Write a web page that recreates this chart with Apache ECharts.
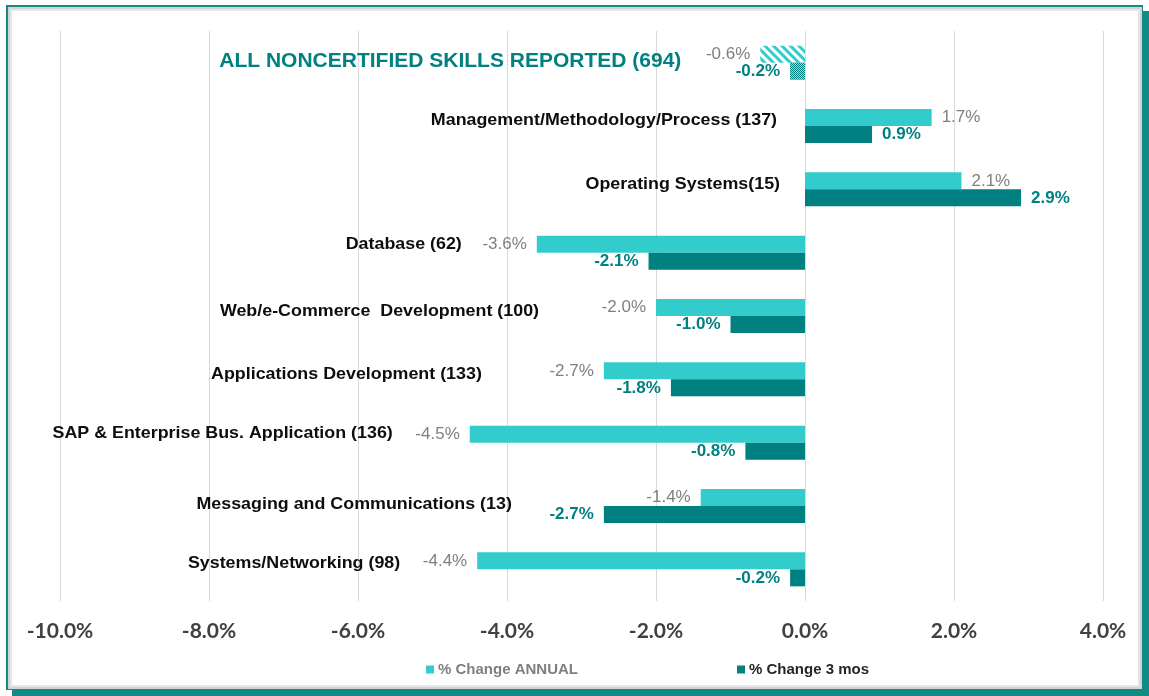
<!DOCTYPE html>
<html>
<head>
<meta charset="utf-8">
<script src="https://cdn.jsdelivr.net/npm/echarts@6/dist/echarts.min.js"></script>
<style>
html,body{margin:0;padding:0;background:#fff;}
#chart{width:1149px;height:696px;}
</style>
</head>
<body>
<div id="chart"></div>
<script>
// ---- data ----
var categories = [
  'ALL NONCERTIFIED SKILLS REPORTED (694)',
  'Management/Methodology/Process (137)',
  'Operating Systems(15)',
  'Database (62)',
  'Web/e-Commerce  Development (100)',
  'Applications Development (133)',
  'SAP & Enterprise Bus. Application (136)',
  'Messaging and Communications (13)',
  'Systems/Networking (98)'
];
var annualChange = [-0.6, 1.7, 2.1, -3.6, -2.0, -2.7, -4.5, -1.4, -4.4];
var threeMonthChange = [-0.2, 0.9, 2.9, -2.1, -1.0, -1.8, -0.8, -2.7, -0.2];
var seriesNames = ['% Change ANNUAL', '% Change 3 mos'];
var xTicks = { min: -10, max: 4, interval: 2 };

// ---- layout / style (not data) ----
var CYAN = '#33cccc', TEAL = '#008080', GRAY = '#7f7f7f';
var labelGap = [79, 28, 25, 75, 117, 122, 77, 92, 77];   // px from leftmost bar edge to label end
var labelDy  = [-1, -6, -5, -8, -5, -5, -9, -2, -6];

function fmt(v){ return v.toFixed(1) + '%'; }

function barData(vals, color, labelColor, bold, decalFirst){
  return vals.map(function(v, i){
    var item = {
      value: v,
      label: {
        show: true,
        position: v < 0 ? 'left' : 'right',
        distance: 10,
        color: labelColor,
        fontWeight: bold ? 'bold' : 'normal',
        fontSize: 17,
        fontFamily: 'Liberation Sans, Arial, sans-serif',
        formatter: function(p){ return fmt(p.value); }
      }
    };
    if (i === 0 && decalFirst) item.itemStyle = decalFirst;
    return item;
  });
}

var labelData = categories.map(function(c, i){
  return [Math.min(annualChange[i], threeMonthChange[i], 0), i];
});

var chart = echarts.init(document.getElementById('chart'), null, {renderer: 'canvas'});
var option = {
  animation: false,
  backgroundColor: '#ffffff',
  graphic: [
    { type: 'rect', z: -10, shape: {x: 12, y: 11, width: 1137, height: 685}, style: {fill: '#138a85'} },
    { type: 'rect', z: -9, shape: {x: 6, y: 5, width: 1137, height: 685}, style: {fill: '#138a85'} },
    { type: 'rect', z: -8, shape: {x: 8, y: 7, width: 1134, height: 682}, style: {fill: '#d4d4d4'} },
    { type: 'rect', z: -7, shape: {x: 10, y: 9, width: 1130, height: 678}, style: {fill: '#e6e6e6'} },
    { type: 'rect', z: -6, shape: {x: 12, y: 11, width: 1126, height: 674}, style: {fill: '#ffffff'} }
  ],
  grid: { left: 60, right: 46, top: 31, bottom: 95, containLabel: false },
  legend: {
    left: 421,
    top: 657,
    itemWidth: 8,
    itemHeight: 8,
    itemGap: 159,
    icon: 'rect',
    data: [
      { name: seriesNames[0], textStyle: { color: GRAY } },
      { name: seriesNames[1], textStyle: { color: '#262626' } }
    ],
    textStyle: { fontSize: 15, fontWeight: 'bold', fontFamily: 'Liberation Sans, Arial, sans-serif', padding: [0,0,0,-1] }
  },
  xAxis: {
    type: 'value',
    min: xTicks.min, max: xTicks.max, interval: xTicks.interval,
    axisLine: { show: false },
    axisTick: { show: false },
    splitLine: { show: true, lineStyle: { color: '#d9d9d9', width: 1 } },
    axisLabel: {
      formatter: function(v){ return fmt(v); },
      color: '#404040', fontSize: 21, fontWeight: 'bold',
      fontFamily: 'Lato, Open Sans, sans-serif', margin: 20
    }
  },
  yAxis: {
    type: 'category',
    data: categories,
    inverse: true,
    axisLine: { show: false },
    axisTick: { show: false },
    axisLabel: { show: false },
    splitLine: { show: false }
  },
  series: [
    {
      name: seriesNames[0],
      type: 'bar',
      barWidth: 17,
      barGap: '0%',
      itemStyle: { color: CYAN },
      data: barData(annualChange, CYAN, GRAY, false, {
        color: '#ffffff',
        decal: { symbol: 'rect', symbolSize: 1, color: CYAN, dashArrayX: [1, 0], dashArrayY: [3, 3], rotation: Math.PI / 4 }
      })
    },
    {
      name: seriesNames[1],
      type: 'bar',
      barWidth: 17,
      barGap: '0%',
      itemStyle: { color: TEAL },
      data: barData(threeMonthChange, TEAL, TEAL, true, {
        color: TEAL,
        decal: { symbol: 'rect', symbolSize: 1, color: 'rgba(255,255,255,0.65)', dashArrayX: [[1, 1], [0, 1, 1, 0]], dashArrayY: [1, 0], rotation: 0 }
      })
    },
    {
      name: 'catLabels',
      type: 'custom',
      silent: true,
      z: 10,
      encode: { x: 0, y: 1 },
      data: labelData,
      renderItem: function(params, api){
        var i = params.dataIndex;
        var pt = api.coord([api.value(0), api.value(1)]);
        var isAll = i === 0;
        return {
          type: 'text',
          x: pt[0] - labelGap[i],
          y: pt[1] + labelDy[i],
          scaleX: 1.05,
          style: {
            x: 0, y: 0,
            text: categories[i],
            textAlign: 'right',
            textVerticalAlign: 'middle',
            fill: isAll ? TEAL : '#0d0d0d',
            font: 'bold ' + (isAll ? 20 : 17) + 'px "Liberation Sans", Arial, sans-serif'
          }
        };
      }
    }
  ]
};
chart.setOption(option);
</script>
</body>
</html>
